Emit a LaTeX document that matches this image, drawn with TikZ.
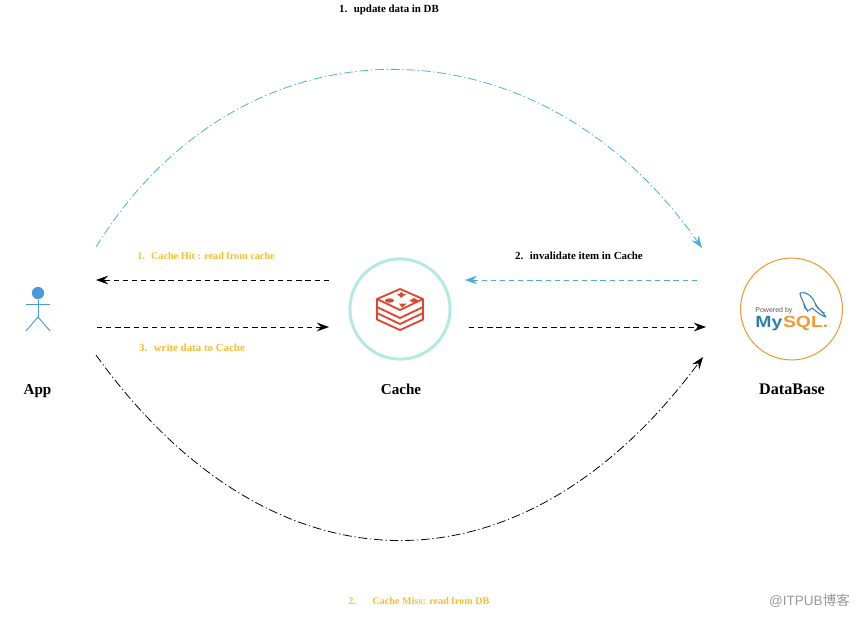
\documentclass[tikz,border=0pt]{standalone}
\usepackage{fontspec}
\usepackage{tikz}
\usetikzlibrary{positioning, arrows.meta, shapes.geometric}
\setmainfont{Liberation Serif}
\newfontfamily\cjkfont{Noto Sans CJK SC}
\newfontfamily\logofont{Liberation Sans}
\newfontfamily\logowide[FakeStretch=1.2]{Liberation Sans}
\definecolor{arcblue}{HTML}{4AAEE3}
\definecolor{actorblue}{HTML}{4A9BDC}
\definecolor{labelyellow}{HTML}{FBBC2E}
\definecolor{ringteal}{HTML}{B5E8E2}
\definecolor{redisred}{HTML}{E0452F}
\definecolor{ringorange}{HTML}{EE9A35}
\definecolor{mysqlblue}{HTML}{2F7FA6}

\begin{document}
\begin{tikzpicture}[
    x=0.02cm, y=-0.02cm,
    pfeil/.style={-{Stealth[length=7pt, width=5pt, inset=2.5pt]}, line width=0.45pt},
    strich/.style={pfeil, dash pattern=on 3pt off 2.2pt},
    bogen/.style={pfeil, dash pattern=on 5pt off 1.6pt on 0.7pt off 1.6pt},
    schritt/.style={font=\fontsize{6.2}{8}\selectfont\bfseries, inner sep=0pt},
    klein/.style={font=\fontsize{5.8}{8}\selectfont\bfseries, inner sep=0pt},
    titel/.style={font=\fontsize{8.6}{10}\selectfont\bfseries, inner sep=0pt, anchor=base},
    strichmann/.style={actorblue, line width=0.55pt},
    redis/.style={redisred, line width=1.05pt, line join=round},
  ]
  \useasboundingbox (0,0) rectangle (859,616);

  % nodes
  \node[circle, draw=ringteal, line width=1.7pt, minimum size=57pt, inner sep=0pt] (cache) at (400,309) {};
  \node[circle, draw=ringorange, line width=0.6pt, minimum size=58pt, inner sep=0pt] (db) at (791.5,309) {};
  \node[circle, fill=actorblue, inner sep=0pt, minimum size=7pt] (head) at (38,293) {};

  \node[titel] (applabel) at (37.5,394.5) {App};
  \node[titel] (cachelabel) at (401,394.5) {Cache};
  \node[titel, font=\fontsize{9.2}{10}\selectfont\bfseries] (dblabel) at (792,394.5) {DataBase};

  % actor
  \coordinate (hip) at (38,317);
  \coordinate (armL) at (26,304);
  \coordinate (armR) at (50,304);
  \coordinate (legL) at (26,331);
  \coordinate (legR) at (50,331);
  \draw[strichmann] (head) -- (hip);
  \draw[strichmann] (armL) -- (armR);
  \draw[strichmann] (legL) -- (hip) -- (legR);

  % redis logo
  \coordinate (rT) at (400,289);
  \coordinate (rL) at (377,299);
  \coordinate (rR) at (423,299);
  \coordinate (rB) at (400,310);
  \draw[redis] (rT) -- (rR) -- (rB) -- (rL) -- cycle;
  \draw[redis] (rL) -- (377,319.5) -- (400,330) -- (423,319.5) -- (rR);
  \draw[redis] (377,307) -- (400,318) -- (423,307);
  \draw[redis] (377,313) -- (400,324) -- (423,313);
  \fill[redisred] (389.5,300.5) ellipse (4.5 and 2.2);
  \fill[redisred] (409.5,300.5) -- (414,298) -- (418.5,300.5) -- (414,303) -- cycle;
  \fill[redisred] (399,303.5) -- (407,303.5) -- (402,307.5) -- cycle;
  \fill[redisred] (397,294.5) -- (400,293.5) -- (401,291.5) -- (403,293.5) -- (406,294.5) -- (403,296) -- (401,298) -- (399.5,296) -- cycle;

  % mysql logo
  \node[font=\logofont\fontsize{4}{5}\selectfont, text=black!65, inner sep=0pt, anchor=base west] (powered) at (755,312.5) {Powered by};
  \node[font=\logowide\fontsize{9.2}{10}\selectfont\bfseries, text=mysqlblue, inner sep=0pt, anchor=base west] (my) at (755,327) {My};
  \node[font=\logowide\fontsize{9.2}{10}\selectfont\bfseries, text=ringorange, inner sep=0pt, anchor=base west] (sql) at (my.base east) {SQL.};
  \draw[mysqlblue, line width=0.6pt, line join=round]
    (800,293) .. controls (806,291) and (812,296) .. (815,303)
    .. controls (817,308) and (822,311) .. (826,317)
    .. controls (821,316) and (816,311) .. (812,308)
    .. controls (810,312) and (804,311) .. (804,304)
    .. controls (803,300) and (800,297) .. (800,293);
  \draw[mysqlblue, line width=0.4pt] (804,304) -- (808,312) (815,305) .. controls (819,310) and (822,312) .. (825,313);

  % connector ends
  \coordinate (hitA) at (329,280);
  \coordinate (hitB) at (96,280);
  \coordinate (writeA) at (97,327);
  \coordinate (writeB) at (329,327);
  \coordinate (invA) at (697,280);
  \coordinate (invB) at (465,280);
  \coordinate (fillA) at (469,327);
  \coordinate (fillB) at (706,327);
  \coordinate (topA) at (96,247);
  \coordinate (topB) at (702,248);
  \coordinate (botA) at (96,355);
  \coordinate (botB) at (703,357);

  \draw[strich] (hitA) -- (hitB);
  \draw[strich] (writeA) -- (writeB);
  \draw[strich, arcblue] (invA) -- (invB);
  \draw[strich] (fillA) -- (fillB);
  \draw[bogen, arcblue] (topA) .. controls (242,11) and (536,11) .. (topB);
  \draw[bogen] (botA) .. controls (273,601) and (522,601) .. (botB);

  % labels
  \node[schritt] (updatelabel) at (389,10) {1.\hspace{0.6em}update data in DB};
  \node[klein, text=labelyellow] (hitlabel) at (206,256) {1.\hspace{0.6em}Cache Hit : read from cache};
  \node[schritt] (invlabel) at (579,256) {2.\hspace{0.6em}invalidate item in Cache};
  \node[schritt, text=labelyellow] (writelabel) at (192,348) {3.\hspace{0.6em}write data to Cache};
  \node[klein, text=labelyellow] (misslabel) at (419,601) {2.\hspace{1.6em}Cache Miss: read from DB};
  \node[font=\logofont\fontsize{7.7}{9}\selectfont, text=black!40, inner sep=0pt] (mark) at (809.5,601) {@ITPUB{\cjkfont 博客}};
\end{tikzpicture}
\end{document}
